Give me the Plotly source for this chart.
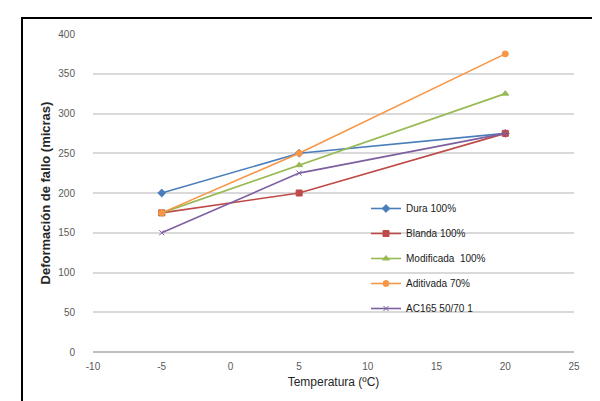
import plotly.graph_objects as go

temps = [-5, 5, 20]
series_names = ["Dura 100%", "Blanda 100%", "Modificada  100%", "Aditivada 70%", "AC165 50/70 1"]
dura = [200, 250, 275]
blanda = [175, 200, 275]
modificada = [175, 235, 325]
aditivada = [175, 250, 375]
ac165 = [150, 225, 275]

x_ticks = [-10, -5, 0, 5, 10, 15, 20, 25]
y_ticks = [0, 50, 100, 150, 200, 250, 300, 350, 400]

colors = ["#4A7EBB", "#BE4B48", "#98B954", "#F79646", "#7D60A0"]
symbols = ["diamond", "square", "triangle-up", "circle", "x-thin"]
values = [dura, blanda, modificada, aditivada, ac165]

FONT = "Liberation Sans Narrow, Liberation Sans, Arial, sans-serif"

fig = go.Figure()
for i, (name, vals) in enumerate(zip(series_names, values)):
    msize = 6 if i < 4 else 5
    fig.add_trace(go.Scatter(
        x=temps, y=vals, name=name, mode="lines+markers",
        legendgroup=f"g{i}",
        line=dict(color=colors[i], width=1.6),
        marker=dict(symbol=symbols[i], size=msize, color=colors[i],
                    line=dict(width=1, color=colors[i])),
    ))

L, R, T, B = 85, 34, 26, 57
W, H = 600, 401
pw = W - L - R
ph = H - T - B

def px_x(p):
    return (p - L) / pw

def px_y(p):
    return (H - B - p) / ph

fig.update_layout(
    width=W, height=H,
    margin=dict(l=L, r=R, t=T, b=B),
    paper_bgcolor="white",
    plot_bgcolor="white",
    font=dict(family=FONT, size=10, color="#595959"),
    showlegend=True,
    legend=dict(
        x=px_x(358), y=px_y(186), xanchor="left", yanchor="top",
        bgcolor="rgba(0,0,0,0)", borderwidth=0,
        font=dict(family=FONT, size=10, color="#1a1a1a"),
        tracegroupgap=6, itemwidth=30,
    ),
    xaxis=dict(
        range=[-10, 25], tickvals=x_ticks, ticktext=[str(v) for v in x_ticks],
        showgrid=False, zeroline=False, showline=False,
        ticks="", ticklabelstandoff=7,
        tickfont=dict(family=FONT, size=10, color="#595959"),
        title=dict(text="Temperatura (ºC)", standoff=6,
                   font=dict(family=FONT, size=12, color="#262626")),
    ),
    yaxis=dict(
        range=[0, 400], tickvals=y_ticks, ticktext=[str(v) for v in y_ticks],
        showgrid=True, gridcolor="#D9D9D9", gridwidth=1.8,
        zeroline=True, zerolinecolor="#BFBFBF", zerolinewidth=2,
        showline=False, ticks="", ticklabelstandoff=17,
        tickfont=dict(family=FONT, size=10, color="#595959"),
        title=dict(text="<b>Deformación de fallo (micras)</b>", standoff=4,
                   font=dict(family="Liberation Sans, Arial, sans-serif", size=13, color="#262626")),
    ),
    shapes=[dict(
        type="rect", xref="paper", yref="paper",
        x0=px_x(14), x1=px_x(598), y0=px_y(415), y1=px_y(10),
        line=dict(color="black", width=2), fillcolor="rgba(0,0,0,0)",
        layer="above",
    )],
)

fig.write_html("out.html")
